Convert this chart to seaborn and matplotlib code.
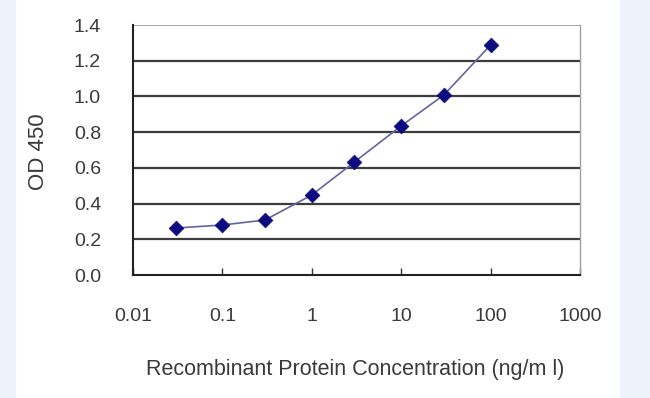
import seaborn as sns
import pandas as pd
import matplotlib.pyplot as plt
from matplotlib.patches import Rectangle

# Data
conc = [0.03, 0.1, 0.3, 1, 3, 10, 30, 100]                       # ng/ml
od450 = [0.263, 0.280, 0.308, 0.448, 0.633, 0.835, 1.008, 1.288]
y_ticks = [0.0, 0.2, 0.4, 0.6, 0.8, 1.0, 1.2, 1.4]
x_ticks = [0.01, 0.1, 1, 10, 100, 1000]
x_labels = ['0.01', '0.1', '1', '10', '100', '1000']

df = pd.DataFrame({'conc': conc, 'od': od450})

sns.set_style('white')
plt.rcParams['font.family'] = ['Liberation Sans', 'DejaVu Sans']
text_col = '#3a3a3a'

fig = plt.figure(figsize=(6.5, 3.98), dpi=100)
# light blue side strips
fig.patches.append(Rectangle((0, 0), 15 / 650, 1, transform=fig.transFigure,
                             color='#edf3fa', zorder=0))
fig.patches.append(Rectangle((620 / 650, 0), 30 / 650, 1, transform=fig.transFigure,
                             color='#edf3fa', zorder=0))

ax = fig.add_axes([133 / 650, 1 - 275 / 398, 447 / 650, 250 / 398])
ax.set_xscale('log')

# horizontal gridlines
for y in y_ticks[1:-1]:
    ax.axhline(y, color='#3c3c3c', linewidth=1.6, zorder=1)
ax.axhline(y_ticks[-1], color='#9a9a9a', linewidth=1.2, zorder=1)

sns.lineplot(data=df, x='conc', y='od', ax=ax, color='#6464a0', linewidth=1.2,
             zorder=2)
sns.scatterplot(data=df, x='conc', y='od', ax=ax, marker='D', color='#0c0c80',
                s=55, edgecolor='#0c0c80', zorder=3)

ax.set_xlim(0.01, 1000)
ax.set_ylim(0, 1.4)
ax.set_xticks(x_ticks)
ax.set_xticklabels(x_labels)
ax.minorticks_off()
ax.set_yticks(y_ticks)
ax.set_yticklabels([f'{v:.1f}' for v in y_ticks])

ax.tick_params(axis='x', direction='in', length=5, width=1, color='#333333',
               pad=24, labelsize=14, labelcolor=text_col, bottom=True)
ax.tick_params(axis='y', length=0, pad=23, labelsize=14, labelcolor=text_col)

for side in ['left', 'bottom']:
    ax.spines[side].set_color('#222222')
    ax.spines[side].set_linewidth(1.5)
ax.spines['right'].set_color('#a0a0a0')
ax.spines['right'].set_linewidth(1.0)
ax.spines['top'].set_visible(False)

ax.set_xlabel('Recombinant Protein Concentration (ng/m l)', fontsize=15.5,
              color=text_col, va='center')
ax.xaxis.set_label_coords((355 - 133) / 447, (275 - 369) / 250)
ax.set_ylabel('OD 450', fontsize=16, color=text_col, va='center')
ax.yaxis.set_label_coords((38 - 133) / 447, (275 - 152) / 250)

fig.savefig('out.png', dpi=100)
